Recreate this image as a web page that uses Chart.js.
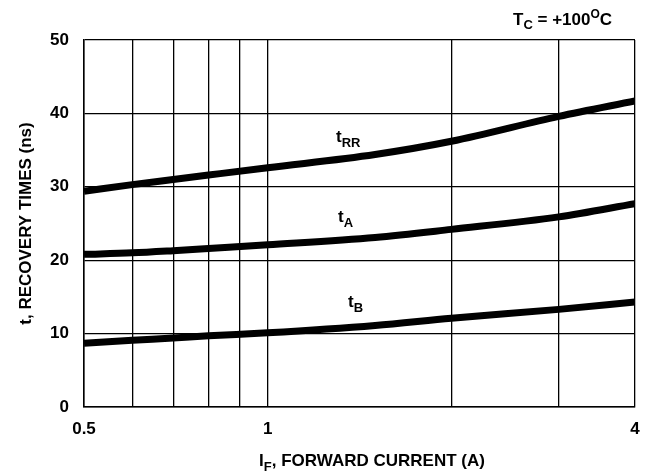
<!DOCTYPE html>
<html>
<head>
<meta charset="utf-8">
<script src="https://cdn.jsdelivr.net/npm/chart.js@4.4.1/dist/chart.umd.min.js"></script>
<style>
  html, body { margin: 0; padding: 0; background: #fff; }
  #wrap { width: 645px; height: 474px; }
</style>
</head>
<body>
<div id="wrap"><canvas id="myChart"></canvas></div>
<script>
// forward current (A)
const current = [0.5, 0.6, 0.7, 0.8, 1, 1.5, 2, 3, 4];
const value_tRR = [29.4, 30.3, 31.0, 31.6, 32.6, 34.4, 36.2, 39.6, 41.7];
const value_tA  = [20.8, 21.0, 21.3, 21.6, 22.1, 23.1, 24.2, 25.9, 27.7];
const value_tB  = [8.7, 9.1, 9.4, 9.7, 10.1, 11.1, 12.1, 13.3, 14.3];

const xGrid = [0.5, 0.6, 0.7, 0.8, 0.9, 1, 2, 3, 4];
const xLabels = [0.5, 1, 4];
const yTicks = [0, 10, 20, 30, 40, 50];

const FONT = '"Liberation Sans", Arial, sans-serif';

function pts(vals) {
    return current.map((x, i) => ({ x: x, y: vals[i] }));
}

// subscript text helper, draws e.g. t + RR
function subText(ctx, x, y, main, sub, size, extra) {
    ctx.font = 'bold ' + size + 'px ' + FONT;
    ctx.textAlign = 'left';
    ctx.textBaseline = 'alphabetic';
    ctx.fillText(main, x, y);
    let w = ctx.measureText(main).width;
    ctx.font = 'bold ' + Math.round(size * 0.75) + 'px ' + FONT;
    ctx.fillText(sub, x + w, y + size * 0.28);
    let w2 = ctx.measureText(sub).width;
    if (extra) {
        ctx.font = 'bold ' + size + 'px ' + FONT;
        ctx.fillText(extra, x + w + w2, y);
    }
}

const labelsPlugin = {
    id: 'labels',
    afterDraw(chart) {
        const ctx = chart.ctx;
        const ys = chart.scales.y;
        ctx.save();
        ctx.fillStyle = '#000';
        // curve labels
        subText(ctx, 336, 142, 't', 'RR', 17);
        subText(ctx, 338, 222, 't', 'A', 17);
        subText(ctx, 348, 307, 't', 'B', 17);

        // T_C = +100°C
        ctx.font = 'bold 17px ' + FONT;
        let x = 513, y = 25;
        ctx.fillText('T', x, y);
        x += ctx.measureText('T').width;
        ctx.font = 'bold 13px ' + FONT;
        ctx.fillText('C', x, y + 4);
        x += ctx.measureText('C').width;
        ctx.font = 'bold 17px ' + FONT;
        ctx.fillText(' = +100', x, y);
        x += ctx.measureText(' = +100').width;
        ctx.font = 'bold 12px ' + FONT;
        ctx.fillText('O', x, y - 7);
        x += ctx.measureText('O').width;
        ctx.font = 'bold 17px ' + FONT;
        ctx.fillText('C', x, y);

        // x axis title
        ctx.font = 'bold 17px ' + FONT;
        let t1 = 'I', t2 = 'F', t3 = ', FORWARD CURRENT (A)';
        let w1 = ctx.measureText(t1).width, w3 = ctx.measureText(t3).width;
        ctx.font = 'bold 13px ' + FONT;
        let w2 = ctx.measureText(t2).width;
        let sx = 372 - (w1 + w2 + w3) / 2;
        subText(ctx, sx, 466, t1, t2, 17, t3);

        // y axis title
        ctx.translate(26, (ys.top + ys.bottom) / 2);
        ctx.rotate(-Math.PI / 2);
        ctx.font = 'bold 17px ' + FONT;
        ctx.textAlign = 'center';
        ctx.textBaseline = 'middle';
        ctx.fillText('t, RECOVERY TIMES (ns)', 0, 0);
        ctx.restore();
    }
};

const myChart = new Chart(document.getElementById('myChart'), {
    type: 'line',
    data: {
        datasets: [
            { label: 'tRR', data: pts(value_tRR) },
            { label: 'tA', data: pts(value_tA) },
            { label: 'tB', data: pts(value_tB) }
        ]
    },
    options: {
        responsive: true,
        maintainAspectRatio: false,
        animation: false,
        layout: { padding: { top: 40, right: 10, left: 0, bottom: 0 } },
        elements: {
            line: { borderColor: '#000', borderWidth: 7, tension: 0.4, cubicInterpolationMode: 'monotone', borderCapStyle: 'butt' },
            point: { radius: 0 }
        },
        plugins: {
            legend: { display: false },
            tooltip: { enabled: false }
        },
        scales: {
            x: {
                type: 'logarithmic',
                min: 0.5,
                max: 4,
                afterBuildTicks: (scale) => { scale.ticks = xGrid.map(v => ({ value: v })); },
                afterFit: (scale) => {
                    scale.height = 67;
                    scale.paddingLeft = 0;
                    scale.paddingRight = 0;
                },
                grid: { color: '#000', lineWidth: 1.3, drawTicks: false },
                border: { color: '#000', width: 1.5 },
                ticks: {
                    autoSkip: false,
                    maxRotation: 0,
                    padding: 12,
                    color: '#000',
                    font: { family: FONT, size: 17, weight: 'bold' },
                    callback: (v) => xLabels.includes(Number(v)) ? String(v) : ''
                }
            },
            y: {
                min: 0,
                max: 50,
                afterBuildTicks: (scale) => { scale.ticks = yTicks.map(v => ({ value: v })); },
                afterFit: (scale) => { scale.width = 84; },
                grid: { color: '#000', lineWidth: 1.3, drawTicks: false },
                border: { color: '#000', width: 1.5 },
                ticks: {
                    padding: 15,
                    color: '#000',
                    font: { family: FONT, size: 17, weight: 'bold' }
                }
            }
        }
    },
    plugins: [labelsPlugin]
});
</script>
</body>
</html>
